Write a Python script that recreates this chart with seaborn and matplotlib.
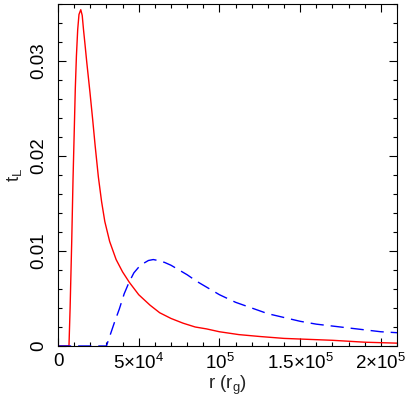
import numpy as np
import pandas as pd
import seaborn as sns
import matplotlib
matplotlib.use('Agg')
import matplotlib.pyplot as plt
from matplotlib.ticker import MultipleLocator

# red solid curve
r_red = [0, 3e3, 6.8e3, 7.5e3, 8.5e3, 9.3e3, 10.0e3, 10.7e3, 11.4e3, 12.2e3, 13.0e3,
         14.1e3, 15.0e3, 15.8e3, 16.7e3, 17.8e3, 19.8e3, 21.5e3, 23e3, 25e3, 27e3, 29e3,
         32e3, 36e3, 40e3, 44.2e3, 50e3, 57e3, 63e3, 70e3, 77.5e3, 85e3, 92e3, 100e3,
         112e3, 125e3, 140e3, 155e3, 170e3, 190e3, 210e3]
t_red = [0, 0, 0, 0.004, 0.011, 0.0175, 0.0222, 0.027, 0.0305, 0.0333, 0.0349,
         0.0354, 0.0348, 0.0333, 0.0318, 0.0299, 0.0267, 0.0238, 0.0211, 0.0178, 0.0152, 0.0131,
         0.0110, 0.0091, 0.0078, 0.0067, 0.0054, 0.0043, 0.0035, 0.0029, 0.0024, 0.0020, 0.0018, 0.0015,
         0.0012, 0.0010, 0.0008, 0.0007, 0.0006, 0.0004, 0.0003]

# blue dashed curve
r_blue = [0, 10e3, 20e3, 30e3, 31e3, 33e3, 35e3, 38e3, 41e3, 44e3, 47e3, 50e3, 53e3,
          56e3, 59e3, 62e3, 66e3, 70e3, 75e3, 80e3, 86e3, 92e3, 100e3, 110e3, 120e3,
          130e3, 140e3, 150e3, 160e3, 170e3, 180e3, 190e3, 200e3, 210e3]
t_blue = [0, 0, 0, 0, 0.0005, 0.0015, 0.0025, 0.0039, 0.0055, 0.0067, 0.0077, 0.0083,
          0.0087, 0.0090, 0.0091, 0.0090, 0.0088, 0.0085, 0.0080, 0.0075, 0.0068, 0.0062,
          0.0054, 0.0046, 0.0040, 0.0034, 0.0030, 0.0026, 0.0023, 0.0021, 0.0019, 0.0017,
          0.0015, 0.0014]

df = pd.concat([
    pd.DataFrame({'r': r_red, 't': t_red, 'curve': 'a'}),
    pd.DataFrame({'r': r_blue, 't': t_blue, 'curve': 'b'}),
], ignore_index=True)

sns.set_style('ticks')
plt.rcParams['font.family'] = ['Liberation Sans', 'DejaVu Sans']
plt.rcParams['mathtext.fontset'] = 'custom'
plt.rcParams['mathtext.rm'] = 'Liberation Sans'
plt.rcParams['mathtext.it'] = 'Liberation Sans'

fig = plt.figure(figsize=(4.15, 3.99), dpi=100)
ax = fig.add_axes([58 / 415, 1 - 346 / 399, (397 - 58) / 415, (346 - 4) / 399])

sns.lineplot(data=df, x='r', y='t', hue='curve', style='curve', ax=ax,
             palette={'a': '#ff0000', 'b': '#0000ff'},
             dashes={'a': '', 'b': (9.5, 5)},
             sort=False, estimator=None, legend=False, linewidth=1.0)

ax.set_xlim(0, 2.1e5)
ax.set_ylim(0, 0.036)
ax.xaxis.set_major_locator(MultipleLocator(5e4))
ax.xaxis.set_minor_locator(MultipleLocator(1e4))
ax.yaxis.set_major_locator(MultipleLocator(0.01))
ax.yaxis.set_minor_locator(MultipleLocator(0.002))
ax.set_xticks([0, 5e4, 1e5, 1.5e5, 2e5])
ax.set_xticklabels(['0', r'5$\times$10$^{4}$', r'10$^{5}$', r'1.5$\times$10$^{5}$', r'2$\times$10$^{5}$'])
ax.set_yticks([0, 0.01, 0.02, 0.03])
ax.set_yticklabels(['0', '0.01', '0.02', '0.03'], rotation=90, va='center')

ax.tick_params(which='both', direction='in', top=True, right=True, width=0.8, colors='black', labelsize=13.5)
ax.tick_params(which='major', length=6)
ax.tick_params(which='minor', length=3)
ax.tick_params(axis='x', pad=5)
ax.tick_params(axis='y', pad=8)
for s in ax.spines.values():
    s.set_linewidth(0.8)
    s.set_color('black')

ax.set_xlabel(r'r ($\mathregular{r_g}$)', fontsize=13.5, labelpad=0.5)
ax.set_ylabel(r'$\mathregular{t_L}$', fontsize=13.5, labelpad=4)

fig.savefig('out.png', dpi=100)
